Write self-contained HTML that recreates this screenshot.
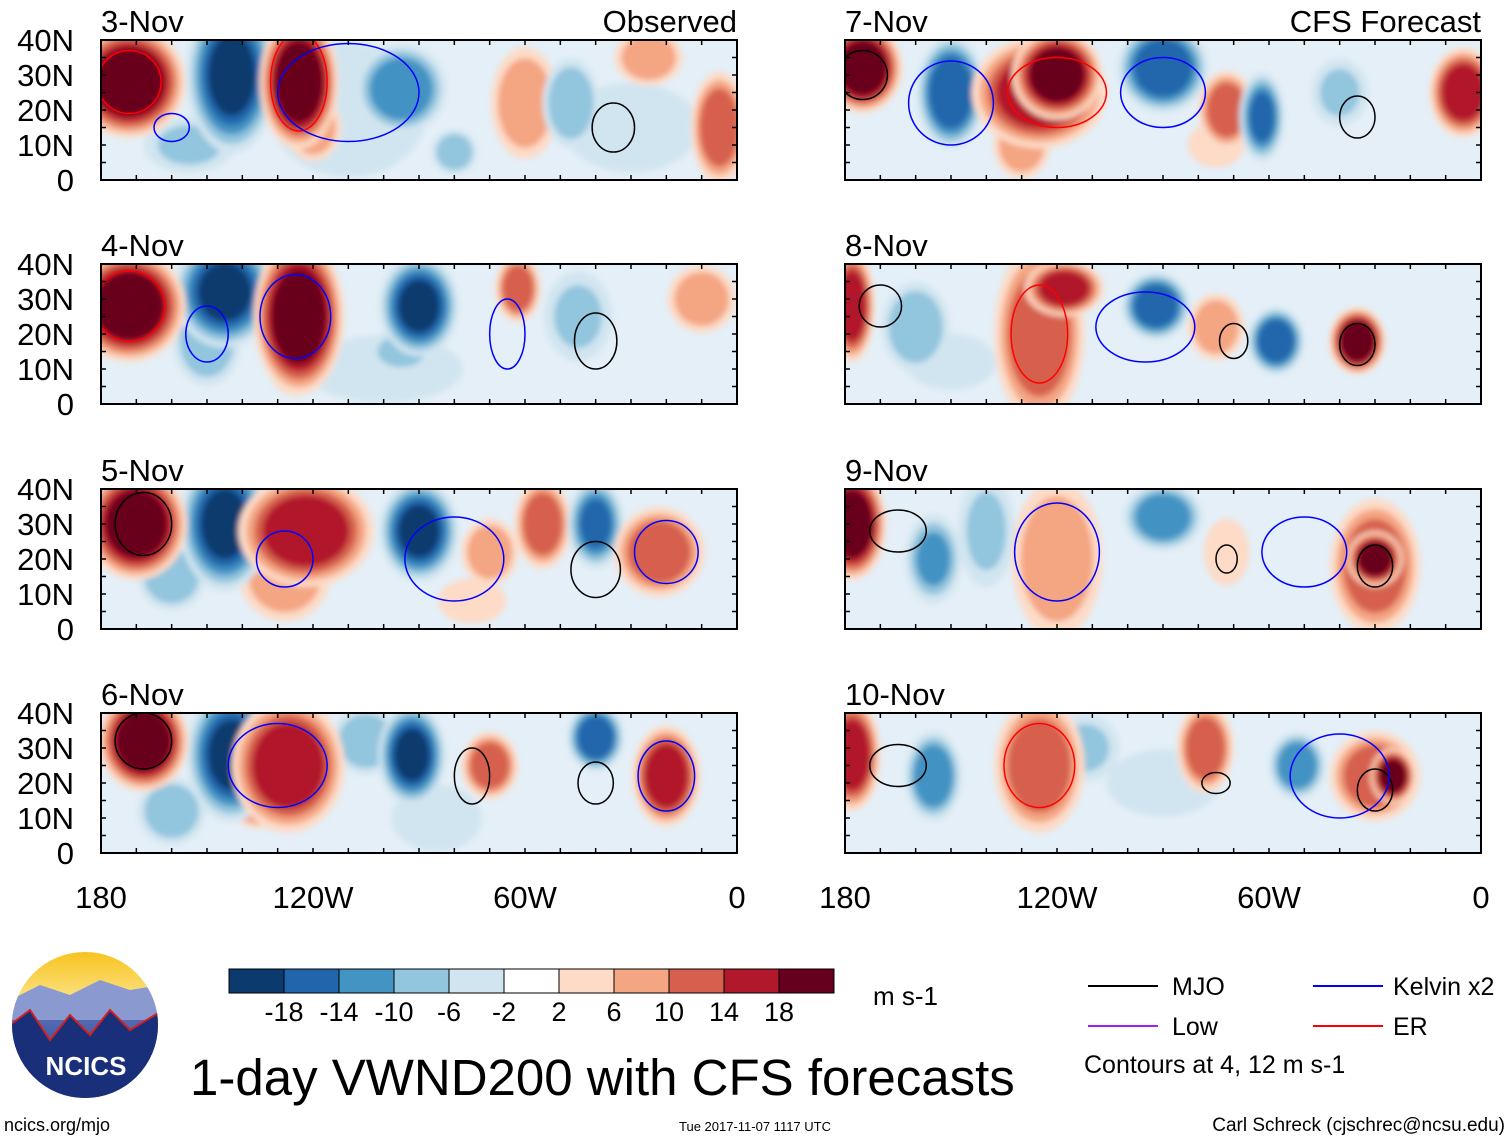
<!DOCTYPE html>
<html><head><meta charset="utf-8"><style>
body{margin:0;background:#fff;width:1510px;height:1141px;overflow:hidden;font-family:"Liberation Sans",sans-serif}
svg{position:absolute;left:0;top:0}
</style></head><body>
<svg id="chart" width="1510" height="1141" viewBox="0 0 1510 1141" xmlns="http://www.w3.org/2000/svg">
<defs><filter id="bl" x="-50%" y="-50%" width="200%" height="200%"><feGaussianBlur stdDeviation="3"/></filter>
<linearGradient id="sky" x1="0" y1="0" x2="0" y2="1"><stop offset="0" stop-color="#f7c21a"/><stop offset="0.35" stop-color="#fbe38a"/><stop offset="0.4" stop-color="#5a6fb5"/><stop offset="1" stop-color="#1f3a8a"/></linearGradient></defs>
<g id="panels"></g>
<g id="colorbar"></g>
<text x="873" y="1005" font-size="26">m s-1</text>
<g font-size="25">
<line x1="1088" y1="986" x2="1158" y2="986" stroke="#000" stroke-width="2"/><text x="1172" y="995">MJO</text>
<line x1="1313" y1="986" x2="1383" y2="986" stroke="#0000ff" stroke-width="2"/><text x="1393" y="995">Kelvin x2</text>
<line x1="1088" y1="1026" x2="1158" y2="1026" stroke="#a020f0" stroke-width="2"/><text x="1172" y="1035">Low</text>
<line x1="1313" y1="1026" x2="1383" y2="1026" stroke="#ff0000" stroke-width="2"/><text x="1393" y="1035">ER</text>
<text x="1084" y="1073" font-size="25">Contours at 4, 12 m s-1</text></g>
<text x="190" y="1095" font-size="51">1-day VWND200 with CFS forecasts</text>
<text x="4" y="1131" font-size="18">ncics.org/mjo</text>
<text x="755" y="1131" font-size="13" text-anchor="middle">Tue 2017-11-07 1117 UTC</text>
<text x="1505" y="1131" font-size="19" text-anchor="end">Carl Schreck (cjschrec@ncsu.edu)</text>
<g>
<clipPath id="lc"><circle cx="85" cy="1025" r="73"/></clipPath>
<g clip-path="url(#lc)"><rect x="10" y="950" width="150" height="150" fill="url(#sky)"/>
<path d="M10 1000 L40 985 L70 995 L100 980 L130 990 L160 985 L160 1020 L10 1020Z" fill="#8a9ad0"/>
<path d="M10 1025 L30 1010 L50 1040 L70 1015 L90 1035 L110 1010 L130 1030 L160 1012 L160 1100 L10 1100Z" fill="#1a2f7a" stroke="#d02020" stroke-width="2"/></g>
<text x="86" y="1075" font-size="26" font-weight="bold" fill="#fff" text-anchor="middle">NCICS</text></g>
</svg>
<script>
const binEdges=[-18,-14,-10,-6,-2,2,6,10,14,18];
const binColors=["#0b3a6e","#2166ac","#4393c3","#92c5de","#d1e5f0","#ffffff","#fddbc7","#f4a582","#d6604d","#b2182b","#67001f"];
const dates=["3-Nov","4-Nov","5-Nov","6-Nov","7-Nov","8-Nov","9-Nov","10-Nov"];
const latTicks=[40,30,20,10,0];
const latLabels=["40N","30N","20N","10N","0"];
const lonTicks=[180,120,60,0];
const lonLabels=["180","120W","60W","0"];
// blobs: [lonW, lat, rxDeg, ryDeg, value m/s]
const blobs3=[[110,20,14,12,-4],[30,15,12,8,-4],[155,10,8,5,-6],[172,28,10,10,20],[143,30,8,14,-18],[124,28,7,12,20],[120,15,5,6,8],[95,26,8,8,-12],[80,8,4,4,-8],[60,22,6,10,8],[47,22,5,8,-8],[25,35,6,5,8],[5,15,5,10,14]];
const blobs4=[[100,10,14,6,-4],[150,18,6,8,-8],[172,28,10,10,20],[145,32,9,10,-18],[124,25,8,14,20],[125,12,5,6,10],[90,28,7,9,-18],[95,15,6,4,-6],[62,33,4,6,14],[45,25,6,8,-6],[10,30,6,6,8]];
const blobs5=[[75,8,6,4,4],[160,15,6,6,-8],[170,30,9,10,20],[145,30,8,12,-18],[122,28,12,10,18],[128,15,8,8,10],[90,28,7,9,-18],[70,22,5,6,10],[55,30,5,8,14],[40,30,5,8,-14],[22,22,8,8,14]];
const blobs6=[[85,10,8,6,-4],[160,12,6,6,-8],[168,32,8,9,20],[143,28,8,12,-18],[127,25,10,12,18],[135,15,6,5,14],[105,32,6,6,-8],[92,28,6,9,-18],[70,25,5,6,12],[40,33,5,6,-16],[20,22,6,9,16]];
const blobs7=[[130,10,5,6,8],[75,10,5,4,6],[175,32,7,8,20],[150,25,6,10,-16],[125,25,12,10,18],[120,30,8,8,20],[90,32,8,8,-16],[72,20,5,7,12],[62,18,4,8,-14],[40,25,5,6,-6],[5,25,6,8,18]];
const blobs8=[[150,12,8,5,-4],[178,28,4,10,16],[160,22,6,8,-8],[125,20,8,16,14],[118,33,7,5,18],[92,28,6,6,-16],[75,22,5,6,10],[58,18,5,6,-16],[35,18,5,6,20]];
const blobs9=[[140,28,5,10,-6],[178,30,6,10,20],[155,20,5,8,-10],[120,20,8,14,10],[90,32,7,6,-12],[72,22,4,6,6],[30,18,8,12,12],[30,20,5,5,20]];
const blobs10=[[90,20,10,6,-4],[178,28,5,10,16],[155,22,5,8,-12],[125,25,8,12,14],[112,30,6,6,-6],[78,30,5,8,14],[52,25,5,6,-12],[30,22,8,8,14],[25,22,4,5,20]];
const allBlobs=[blobs3,blobs4,blobs5,blobs6,blobs7,blobs8,blobs9,blobs10];
// contours: [lonW, lat, rxDeg, ryDeg, type]
const contours=[[[172,28,9,9,"ER"],[160,15,5,4,"K"],[35,15,6,7,"MJO"],[124,28,8,14,"ER"],[110,25,20,14,"K"]],
[[172,28,10,10,"ER"],[150,20,6,8,"K"],[40,18,6,8,"MJO"],[65,20,5,10,"K"],[125,25,10,12,"K"]],
[[168,30,8,9,"MJO"],[128,20,8,8,"K"],[40,17,7,8,"MJO"],[20,22,9,9,"K"],[80,20,14,12,"K"]],
[[168,32,8,8,"MJO"],[75,22,5,8,"MJO"],[40,20,5,6,"MJO"],[20,22,8,10,"K"],[130,25,14,12,"K"]],
[[175,30,7,7,"MJO"],[120,25,14,10,"ER"],[35,18,5,6,"MJO"],[90,25,12,10,"K"],[150,22,12,12,"K"]],
[[170,28,6,6,"MJO"],[35,17,5,6,"MJO"],[70,18,4,5,"MJO"],[125,20,8,14,"ER"],[95,22,14,10,"K"]],
[[165,28,8,6,"MJO"],[30,18,5,6,"MJO"],[72,20,3,4,"MJO"],[50,22,12,10,"K"],[120,22,12,14,"K"]],
[[165,25,8,6,"MJO"],[30,18,5,6,"MJO"],[75,20,4,3,"MJO"],[125,25,10,12,"ER"],[40,22,14,12,"K"]]];
const ctColors={MJO:"#000",K:"#0000ff",ER:"#ff0000",LOW:"#a020f0"};
const PW=636,PH=140,colX=[101,845],rowY=[40,264,489,713];
const NS="http://www.w3.org/2000/svg";
function mk(t,a,p){const e=document.createElementNS(NS,t);for(const k in a)e.setAttribute(k,a[k]);p.appendChild(e);return e;}
function colorFor(v){let i=0;while(i<binEdges.length&&v>binEdges[i])i++;return binColors[i];}
const root=document.getElementById('panels');
for(let p=0;p<8;p++){
 const col=p<4?0:1,row=p%4,x0=colX[col],y0=rowY[row];
 const xs=lon=>x0+(180-lon)/180*PW, ys=lat=>y0+PH-lat/40*PH;
 const g=mk('g',{},root);
 
 
 const cp=mk('clipPath',{id:'cp'+p},g);mk('rect',{x:x0,y:y0,width:PW,height:PH},cp);
 const inner=mk('g',{'clip-path':'url(#cp'+p+')'},g);
 mk('rect',{x:x0,y:y0,width:PW,height:PH,fill:'#e4eff7'},inner);
 const fg=mk('g',{filter:'url(#bl)'},inner);
 const sorted=allBlobs[p].slice().sort((a,b)=>Math.abs(a[4])-Math.abs(b[4]));
 for(const b of sorted){
  const steps=binEdges.filter(e=>b[4]>0?(e>0&&e<b[4]):(e<0&&e>b[4]));
  const levels=b[4]>0?steps.map(e=>e+1).concat([b[4]]):steps.slice().reverse().map(e=>e-1).concat([b[4]]);
  const n=levels.length;
  levels.forEach((lv,i)=>{const f=1.6*(1-0.6*i/n);
   const el=mk('ellipse',{cx:xs(b[0]),cy:ys(b[1]),rx:b[2]/180*PW*f,ry:b[3]/40*PH*f,fill:colorFor(lv)},fg);
   
   });
 }
 for(const c of contours[p]){
  const el=mk('ellipse',{cx:xs(c[0]),cy:ys(c[1]),rx:c[2]/180*PW,ry:c[3]/40*PH,fill:'none',stroke:ctColors[c[4]],'stroke-width':1.5},inner);
  
  
 }
 mk('rect',{x:x0,y:y0,width:PW,height:PH,fill:'none',stroke:'#000','stroke-width':2},g);
 for(let l=0;l<=180;l+=10){const x=xs(l);mk('line',{x1:x,y1:y0,x2:x,y2:y0+5,stroke:'#000','stroke-width':1.5},g);mk('line',{x1:x,y1:y0+PH,x2:x,y2:y0+PH-5,stroke:'#000','stroke-width':1.5},g);}
 for(let la=0;la<=40;la+=5){const y=ys(la);mk('line',{x1:x0,y1:y,x2:x0+5,y2:y,stroke:'#000','stroke-width':1.5},g);mk('line',{x1:x0+PW,y1:y,x2:x0+PW-5,y2:y,stroke:'#000','stroke-width':1.5},g);}
 const t=mk('text',{x:x0,y:y0-8,'font-size':31},g);t.textContent=dates[p];
 
 
 if(row===0){const s=mk('text',{x:x0+PW,y:y0-8,'font-size':31,'text-anchor':'end'},g);s.textContent=col===0?'Observed':'CFS Forecast';
  
  }
 if(col===0){latTicks.forEach((la,i)=>{const s=mk('text',{x:74,y:ys(la)+11,'font-size':31,'text-anchor':'end'},g);s.textContent=latLabels[i];
  
  });}
 if(row===3){lonTicks.forEach((l,i)=>{const s=mk('text',{x:xs(l),y:908,'font-size':31,'text-anchor':'middle'},g);s.textContent=lonLabels[i];
  
  });}
}
const cb=document.getElementById('colorbar');
const cbX=229,cbW=55,cbY=969,cbH=24;
binColors.forEach((c,i)=>{const r=mk('rect',{x:cbX+i*cbW,y:cbY,width:cbW,height:cbH,fill:c,stroke:'#000','stroke-width':1},cb);
 
 });
binEdges.forEach((e,i)=>{const t=mk('text',{x:cbX+(i+1)*cbW,y:1021,'font-size':27,'text-anchor':'middle'},cb);t.textContent=String(e);
 
 });
</script>
</body></html>
